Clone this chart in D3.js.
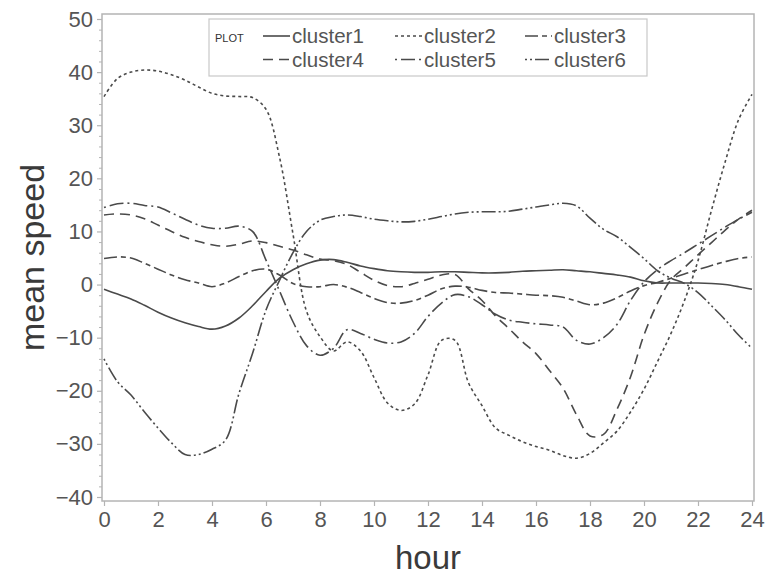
<!DOCTYPE html>
<html>
<head>
<meta charset="utf-8">
<script src="https://cdn.jsdelivr.net/npm/d3@7"></script>
<style>
  body { margin: 0; background: #fff; }
  text { font-family: "Liberation Sans", Arial, sans-serif; }
</style>
</head>
<body>
<svg id="chart" width="766" height="579"></svg>
<script>
// hour grid (every half hour)
const hours = [0, 0.5, 1, 1.5, 2, 2.5, 3, 3.5, 4, 4.5, 5, 5.5, 6, 6.5, 7, 7.5, 8, 8.5,
  9, 9.5, 10, 10.5, 11, 11.5, 12, 12.5, 13, 13.5, 14, 14.5, 15, 15.5, 16, 16.5,
  17, 17.5, 18, 18.5, 19, 19.5, 20, 20.5, 21, 21.5, 22, 22.5, 23, 23.5, 24];

const cluster1 = [-0.9, -1.8, -2.7, -3.9, -5.2, -6.3, -7.2, -7.9, -8.4, -7.8, -6.3, -4, -1.3, 1.2,
  2.8, 3.9, 4.6, 4.7, 4.2, 3.5, 3.0, 2.6, 2.4, 2.3, 2.3, 2.4, 2.4, 2.3, 2.2, 2.2, 2.3, 2.5,
  2.6, 2.7, 2.8, 2.6, 2.4, 2.1, 1.8, 1.4, 0.7, 0.3, 0.3, 0.3, 0.3, 0.2, 0, -0.4, -0.9];

const cluster2 = [35.4, 38.8, 40, 40.4, 40.2, 39.5, 38.5, 37.2, 36, 35.5, 35.4, 35.2, 33, 24,
  9.5, -5, -9.8, -12.5, -10.8, -12.5, -17.5, -22.3, -23.7, -22.5, -17, -10.5, -10.5, -18.5,
  -22.8, -27, -28.4, -29.6, -30.5, -31.2, -32.2, -32.7, -31.8, -29.8, -27.6, -24, -19.7,
  -14.5, -9.2, -3, 4.5, 14, 23, 31, 35.8];

const cluster3 = [4.9, 5.2, 5.0, 4.0, 2.9, 1.8, 0.9, 0.3, -0.4, 0.3, 1.5, 2.6, 2.9, 1.8, 0.2,
  -0.4, -0.4, 0, -0.5, -1.5, -2.6, -3.4, -3.5, -3.0, -2.0, -0.8, -0.3, -0.5, -1.1, -1.5,
  -1.6, -1.8, -2, -2.1, -2.4, -3.1, -3.8, -3.5, -2.5, -1.2, -0.2, 0.4, 1.2, 2.0, 2.8, 3.6,
  4.3, 4.9, 5.2];

const cluster4 = [13.1, 13.3, 13.1, 12.4, 11.2, 10, 8.9, 8.1, 7.5, 7.2, 7.6, 8.2, 7.9, 7.2,
  6.5, 5.6, 4.8, 4.5, 3.8, 2.3, 0.8, -0.2, -0.4, 0.2, 1.0, 1.8, 1.9, -0.8, -3, -5.9, -8.3,
  -10.8, -13, -16.2, -19.5, -24.5, -28.5, -28.2, -23.5, -17.4, -9.5, -3.5, 0.9, 3.2, 5.6,
  7.9, 10.2, 12.3, 14];

const cluster5 = [14.5, 15.2, 15.3, 14.9, 14.6, 13.5, 12.3, 11.2, 10.6, 10.6, 11.0, 10, 4.6,
  -1.2, -7, -11.5, -13.3, -12, -8.5, -9.2, -10.3, -11, -10.8, -9.2, -6, -3.5, -1.9, -2.3,
  -3.8, -5.6, -6.7, -7.1, -7.4, -7.6, -8, -10.5, -11.2, -10, -7.5, -3, 0.5, 2.8, 4.5, 6,
  7.6, 9.2, 10.8, 12.3, 13.6];

const cluster6 = [-14, -18.3, -20.8, -24, -27, -29.8, -32, -32, -31, -29.3, -20.5, -13, -4.8,
  0.8, 6, 10, 12.1, 12.8, 13.1, 12.8, 12.3, 12, 11.8, 11.9, 12.3, 12.8, 13.3, 13.6, 13.7,
  13.7, 13.8, 14.2, 14.6, 15, 15.3, 14.8, 12.5, 10.4, 9, 7, 4.9, 2.6, 1.2, 0.2, -1.5, -4,
  -6.6, -9.5, -12];

const seriesNames = ['cluster1', 'cluster2', 'cluster3', 'cluster4', 'cluster5', 'cluster6'];
const seriesValues = [cluster1, cluster2, cluster3, cluster4, cluster5, cluster6];
const dashes = [null, '3,3', '13,4,5,4', '10,6', '2,4,14,4', '2,3,2,3,14,3'];

const xTicks = [0, 2, 4, 6, 8, 10, 12, 14, 16, 18, 20, 22, 24];
const yTicks = [-40, -30, -20, -10, 0, 10, 20, 30, 40, 50];

const svg = d3.select('#chart');
const frame = { left: 102, right: 754, top: 14, bottom: 501 };

const x = d3.scaleLinear().domain([0, 24]).range([104, 752]);
const y = d3.scaleLinear().domain([-40, 50]).range([497, 19]);

const axisColor = '#b4b4b4';
const labelColor = '#555';

// frame
svg.append('rect')
  .attr('x', frame.left).attr('y', frame.top)
  .attr('width', frame.right - frame.left)
  .attr('height', frame.bottom - frame.top)
  .attr('fill', 'none')
  .attr('stroke', axisColor)
  .attr('stroke-width', 1.5);

// x axis
const xAxis = svg.append('g')
  .attr('transform', `translate(0,${frame.bottom})`)
  .call(d3.axisBottom(x).tickValues(xTicks).tickSize(5).tickPadding(5)
    .tickFormat(d3.format('d')));
xAxis.select('.domain').remove();
xAxis.selectAll('line').attr('stroke', axisColor).attr('stroke-width', 1.2);
xAxis.selectAll('text').attr('fill', labelColor).attr('font-size', 22)
  .attr('font-family', '"Liberation Sans", Arial, sans-serif');

// y axis, minor ticks first
const minor = d3.range(-40, 51, 2).filter(v => v % 10 !== 0);
svg.append('g')
  .attr('transform', `translate(${frame.left},0)`)
  .call(d3.axisLeft(y).tickValues(minor).tickSize(3).tickFormat(''))
  .call(g => g.select('.domain').remove())
  .selectAll('line').attr('stroke', axisColor);

const yAxis = svg.append('g')
  .attr('transform', `translate(${frame.left},0)`)
  .call(d3.axisLeft(y).tickValues(yTicks).tickSize(5).tickPadding(4)
    .tickFormat(d => d < 0 ? '\u2212' + Math.abs(d) : d));
yAxis.select('.domain').remove();
yAxis.selectAll('line').attr('stroke', axisColor).attr('stroke-width', 1.2);
yAxis.selectAll('text').attr('fill', labelColor).attr('font-size', 22)
  .attr('font-family', '"Liberation Sans", Arial, sans-serif');

// axis titles
svg.append('text')
  .attr('x', 428).attr('y', 569)
  .attr('text-anchor', 'middle')
  .attr('font-size', 33)
  .attr('fill', '#3a3a3a')
  .text('hour');

svg.append('text')
  .attr('transform', `translate(44,${(frame.top + frame.bottom) / 2}) rotate(-90)`)
  .attr('text-anchor', 'middle')
  .attr('font-size', 34)
  .attr('fill', '#3a3a3a')
  .text('mean speed');

// lines
const line = d3.line()
  .x(d => x(d[0]))
  .y(d => y(d[1]))
  .curve(d3.curveCatmullRom.alpha(0.5));

const plot = svg.append('g');
seriesValues.forEach((vals, i) => {
  plot.append('path')
    .datum(hours.map((h, j) => [h, vals[j]]))
    .attr('d', line)
    .attr('fill', 'none')
    .attr('stroke', '#4a4a4a')
    .attr('stroke-width', 1.6)
    .attr('stroke-dasharray', dashes[i]);
});

// legend
const legend = svg.append('g');
legend.append('rect')
  .attr('x', 209).attr('y', 19)
  .attr('width', 438).attr('height', 57)
  .attr('fill', '#fff')
  .attr('stroke', '#c8c8c8')
  .attr('stroke-width', 1.2);
legend.append('text')
  .attr('x', 215).attr('y', 42)
  .attr('font-size', 11)
  .attr('fill', '#333')
  .text('PLOT');

const colX = [263, 395, 525];
const rowY = [43, 66.5];
seriesNames.forEach((name, i) => {
  const cx = colX[i % 3];
  const by = rowY[Math.floor(i / 3)];
  legend.append('line')
    .attr('x1', cx).attr('x2', cx + 27)
    .attr('y1', by - 7).attr('y2', by - 7)
    .attr('stroke', '#4a4a4a')
    .attr('stroke-width', 1.6)
    .attr('stroke-dasharray', dashes[i]);
  legend.append('text')
    .attr('x', cx + 29).attr('y', by)
    .attr('font-size', 20.5)
    .attr('fill', labelColor)
    .text(name);
});
</script>
</body>
</html>
